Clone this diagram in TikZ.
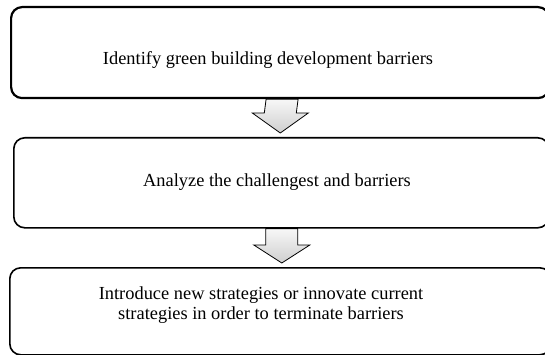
\documentclass[tikz,border=0pt]{standalone}
\usepackage{fontspec}
\setmainfont{Liberation Serif}
\usetikzlibrary{calc}
\begin{document}
\begin{tikzpicture}[x=1pt,y=-1pt,
  box/.style={draw=black, rounded corners=11pt, inner sep=0pt, anchor=north west},
  lbl/.style={font=\fontsize{18.4}{20}\selectfont, align=center, inner sep=0pt},
  bigarrow/.style={draw=black, line width=0.8pt, line join=miter, top color=gray!6, bottom color=gray!38}]
\useasboundingbox (0,0) rectangle (545,355);
% boxes
\node[box, line width=2.2pt, minimum width=538pt, minimum height=91pt] (b1) at (10,6) {};
\node[box, line width=1.6pt, minimum width=535pt, minimum height=90pt] (b2) at (13,137) {};
\node[box, line width=1.6pt, minimum width=541pt, minimum height=87pt] (b3) at (9,267) {};
% labels
\node[lbl, anchor=base] (t1) at (268,65) {Identify green building development barriers};
\node[lbl, anchor=base] (t2) at (277,187) {Analyze the challengest and barriers};
\node[lbl, anchor=center] (t3) at (261,305) {Introduce new strategies or innovate current\\strategies in order to terminate barriers};
% arrow 1
\coordinate (a1s) at ($(b1.south)+(2,0)$);
\coordinate (a1t) at ($(b2.north)+(-1,-4)$);
\path[bigarrow] ($(a1s)+(-16,0)$) -- ($(a1s)+(16,0)$) -- ($(a1t)+(16,-20)$) -- ($(a1t)+(28,-20)$) -- (a1t) -- ($(a1t)+(-28,-20)$) -- ($(a1t)+(-16,-20)$) -- cycle;
% arrow 2
\coordinate (a2s) at ($(b2.south)+(0.5,0)$);
\coordinate (a2t) at ($(b3.north)+(1.5,-4)$);
\path[bigarrow] ($(a2s)+(-16,0)$) -- ($(a2s)+(16,0)$) -- ($(a2t)+(16,-18)$) -- ($(a2t)+(28,-18)$) -- (a2t) -- ($(a2t)+(-28,-18)$) -- ($(a2t)+(-16,-18)$) -- cycle;
\end{tikzpicture}
\end{document}
